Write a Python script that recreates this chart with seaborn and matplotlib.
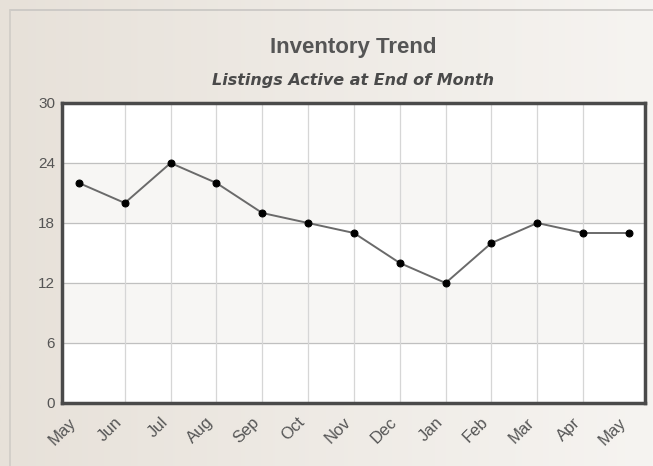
import numpy as np
import pandas as pd
import matplotlib.pyplot as plt
from matplotlib.lines import Line2D
import seaborn as sns

# Monthly listings
months = ['May', 'Jun', 'Jul', 'Aug', 'Sep', 'Oct', 'Nov',
          'Dec', 'Jan', 'Feb', 'Mar', 'Apr', 'May']
listings = [22, 20, 24, 22, 19, 18, 17, 14, 12, 16, 18, 17, 17]
y_ticks = [0, 6, 12, 18, 24, 30]

df = pd.DataFrame({'pos': np.arange(len(months)), 'listings': listings})

sns.set_style('white')
plt.rcParams['font.family'] = ['Liberation Sans', 'DejaVu Sans']

fig = plt.figure(figsize=(6.53, 4.66), dpi=100)

# beige gradient background
bg = fig.add_axes([0, 0, 1, 1], zorder=-10)
grad = np.linspace(0, 1, 256)[None, :]
bg.imshow(grad, aspect='auto', cmap=sns.blend_palette(['#e7e1d9', '#f6f4f1'], as_cmap=True),
          extent=[0, 1, 0, 1])
bg.set_axis_off()

# thin outer frame (top + left)
fig.add_artist(Line2D([10/653, 1], [1 - 10/466] * 2, color='#c8c6c3', lw=1.2))
fig.add_artist(Line2D([10/653] * 2, [0, 1 - 10/466], color='#d0ccc6', lw=1.2))

ax = fig.add_axes([62/653, 63/466, 583/653, 300/466])
ax.set_facecolor('white')

# alternating light bands
for lo in [6, 18]:
    ax.axhspan(lo, lo + 6, color='#f7f6f4', zorder=0)

sns.lineplot(data=df, x='pos', y='listings', ax=ax, color='#6a6a6a', lw=1.4,
             marker='o', markersize=5, markerfacecolor='black',
             markeredgecolor='black', zorder=3)

ax.set_xlim(-0.37, 12.35)
ax.set_ylim(0, 30)
ax.set_yticks(y_ticks)
ax.set_xticks(df['pos'])
ax.set_xticklabels(months, rotation=45, ha='right', va='bottom',
                   rotation_mode='anchor', color='#555555', fontsize=12)
ax.tick_params(axis='y', labelsize=11, labelcolor='#555555', length=0, pad=5)
ax.tick_params(axis='x', length=0, pad=16)

for y in y_ticks[1:-1]:
    ax.axhline(y, color='#c0c0c0', lw=0.9, zorder=1)
for x in df['pos'][1:-1]:
    ax.axvline(x, color='#d6d6d6', lw=0.9, zorder=1)

ax.set_xlabel('')
ax.set_ylabel('')
for s in ax.spines.values():
    s.set_visible(True)
    s.set_color('#4a4a4a')
    s.set_linewidth(2.5)

fig.text(353/653, 1 - 47/466, 'Inventory Trend', ha='center', va='center',
         fontsize=16, fontweight='bold', color='#555555')
fig.text(353/653, 1 - 81/466, 'Listings Active at End of Month', ha='center',
         va='center', fontsize=11.5, style='italic', fontweight='bold',
         color='#4a4a4a', family=['DejaVu Sans'])

fig.savefig('out.png', dpi=100)
